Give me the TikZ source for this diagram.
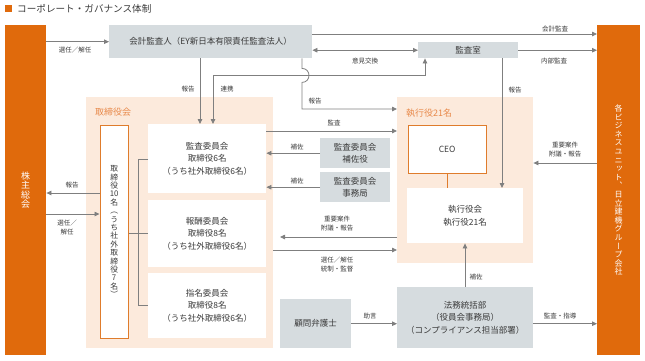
\documentclass[tikz,border=0pt]{standalone}
\usepackage{fontspec}
\setmainfont{Noto Sans CJK JP}
\newfontfamily\vjp[RawFeature=+vert]{Noto Sans CJK JP}
\usetikzlibrary{arrows.meta}
\definecolor{hcorange}{HTML}{E06A0C}
\definecolor{hcborder}{HTML}{DF7C2C}
\definecolor{hclabel}{HTML}{E8894A}
\definecolor{hcpeach}{HTML}{FCEADC}
\definecolor{hcgray}{HTML}{D6DCDF}
\definecolor{hcline}{HTML}{7F7F7F}
\definecolor{hctext}{HTML}{3A3A3A}
\tikzset{
	box/.style={anchor=north west, inner sep=0pt, align=center, text=hctext, font=\fontsize{8.5}{12.5}\selectfont},
	graybox/.style={box, fill=hcgray},
	whitebox/.style={box, fill=white},
	orangebox/.style={box, fill=white, draw=hcborder, line width=1.3pt},
	bar/.style={anchor=north west, inner sep=0pt, fill=hcorange, text=white, align=center},
	region/.style={anchor=north west, inner sep=0pt, fill=hcpeach},
	regionlbl/.style={anchor=west, inner sep=0pt, text=hclabel, font=\fontsize{9}{10}\selectfont},
	lbl/.style={inner sep=0pt, align=center, text=hctext, font=\fontsize{6.5}{9}\selectfont},
	ln/.style={draw=hcline, line width=0.8pt},
	arr/.style={ln, -{Triangle[length=5pt,width=4.5pt]}},
	arrboth/.style={ln, {Triangle[length=5pt,width=4.5pt]}-{Triangle[length=5pt,width=4.5pt]}},
}
\begin{document}
\begin{tikzpicture}[x=1pt,y=-1pt]
	\useasboundingbox (0,0) rectangle (645,360);
	
	% title
	\fill[hcorange] (5,5) rectangle (12,12);
	\node[anchor=west, inner sep=0pt, text=hctext, font=\fontsize{9.6}{10}\selectfont] (title) at (17,9) {コーポレート・ガバナンス体制};
	
	% bars and regions
	\node[bar, minimum width=41pt, minimum height=330pt, font=\vjp\fontsize{9}{9.5}\selectfont] (holders) at (5,25) {株\\主\\総\\会};
	\node[bar, minimum width=43pt, minimum height=330pt, font=\vjp\fontsize{8}{8.6}\selectfont] (units) at (597,25) {各\\ビ\\ジ\\ネ\\ス\\ユ\\ニ\\ッ\\ト\\、\\日\\立\\建\\機\\グ\\ル\\ー\\プ\\会\\社};
	\node[region, minimum width=187pt, minimum height=251pt] (board) at (86,97) {};
	\node[regionlbl] (boardlbl) at (95,112) {取締役会};
	\node[region, minimum width=136pt, minimum height=166pt] (exec) at (397,97) {};
	\node[regionlbl] (execlbl) at (406,113) {執行役21名};
	
	% boxes
	\node[graybox, minimum width=203pt, minimum height=33pt] (auditor) at (109,25) {会計監査人（EY新日本有限責任監査法人）};
	\node[graybox, minimum width=100pt, minimum height=16pt] (room) at (418,42) {監査室};
	\node[orangebox, minimum width=28pt, minimum height=213pt, font=\vjp\fontsize{7.8}{8.4}\selectfont] (directors) at (99.5,124.5) {取\\締\\役\\10\\名\\（\\う\\ち\\社\\外\\取\\締\\役\\7\\名\\）};
	\node[whitebox, minimum width=118pt, minimum height=69pt] (auditcom) at (148,124) {監査委員会\\取締役6名\\（うち社外取締役6名）};
	\node[whitebox, minimum width=118pt, minimum height=67pt] (compcom) at (148,200) {報酬委員会\\取締役8名\\（うち社外取締役6名）};
	\node[whitebox, minimum width=118pt, minimum height=65pt] (nomcom) at (148,273) {指名委員会\\取締役8名\\（うち社外取締役6名）};
	\node[graybox, minimum width=70pt, minimum height=30pt] (assist) at (320,138) {監査委員会\\補佐役};
	\node[graybox, minimum width=70pt, minimum height=30pt] (office) at (320,172) {監査委員会\\事務局};
	\node[orangebox, minimum width=78pt, minimum height=48pt] (ceo) at (407.5,124.5) {CEO};
	\node[whitebox, minimum width=116pt, minimum height=55pt] (excom) at (407,188) {執行役会\\執行役21名};
	\node[graybox, minimum width=136pt, minimum height=61pt] (legal) at (397,287) {法務統括部\\（役員会事務局）\\（コンプライアンス担当部署）};
	\node[graybox, minimum width=71pt, minimum height=49pt] (lawyer) at (280,299) {顧問弁護士};
	
	% levels
	\coordinate (k34) at (0,34);
	\coordinate (k75) at (425,75);
	\coordinate (k109) at (0,109);
	\coordinate (k131) at (0,131);
	\coordinate (k163) at (0,163);
	\coordinate (k193) at (0,193);
	\coordinate (k214) at (0,214);
	\coordinate (k237) at (280,237);
	\coordinate (k250) at (0,250);
	\coordinate (b1) at (138,159);
	\coordinate (b2) at (138,305);
	\coordinate (x200) at (200,0);
	\coordinate (x213) at (213,0);
	\coordinate (x302) at (302,0);
	\coordinate (x465) at (465,0);
	\coordinate (x502) at (502,0);
	
	% top
	\draw[arr] (holders.east |- auditor) -- (auditor.west);
	\node[lbl] (l1) at (75,50) {選任／解任};
	\draw[arr] (auditor.east |- k34) -- (units.west |- k34);
	\node[lbl] (l2) at (555,29) {会計監査};
	\draw[arrboth] (auditor.east |- room) -- (room.west);
	\node[lbl] (l3) at (365,61) {意見交換};
	\draw[arr] (room.east) -- (units.west |- room);
	\node[lbl] (l4) at (554,61) {内部監査};
	\draw[arr] (auditor.south -| x200) -- (auditcom.north -| x200);
	\node[lbl] (l5) at (188,89) {報告};
	\draw[arrboth] (auditcom.north -| x213) |- (k75) -- (room.south -| k75);
	\node[lbl] (l6) at (227,89) {連携};
	\draw[arr] (auditor.south -| x302) -- ++(0,10) .. controls +(9.3,0) and +(9.3,0) .. ++(0,14) |- (exec.west |- k109);
	\node[lbl] (l7) at (315,101) {報告};
	\draw[arr] (room.south -| x502) -- (excom.north -| x502);
	\node[lbl] (l8) at (515,90) {報告};
	
	% middle
	\draw[arr] (auditcom.east |- k131) -- (exec.west |- k131);
	\node[lbl] (l9) at (334,123) {監査};
	\draw[arr] (assist.west) -- (auditcom.east |- assist);
	\node[lbl] (l10) at (297,147) {補佐};
	\draw[arr] (office.west) -- (auditcom.east |- office);
	\node[lbl] (l11) at (297,181) {補佐};
	\draw[arr] (exec.west |- k237) -- (k237);
	\node[lbl] (l12) at (337,223.5) {重要案件\\附議・報告};
	\draw[arr] (board.east |- k250) -- (exec.west |- k250);
	\node[lbl] (l13) at (337,264.5) {選任／解任\\統制・監督};
	\draw[arr] (units.west |- k163) -- (exec.east |- k163);
	\node[lbl] (l14) at (565,149.5) {重要案件\\附議・報告};
	\draw[hcborder, line width=1.3pt] (ceo.south) -- (ceo.south |- excom.north);
	
	% shareholders
	\draw[arr] (directors.west |- k193) -- (holders.east |- k193);
	\node[lbl] (l15) at (72,185) {報告};
	\draw[arr] (holders.east |- k214) -- (directors.west |- k214);
	\node[lbl] (l16) at (67,228) {選任／\\解任};
	\draw[ln] (directors.east |- compcom) -- (compcom.west);
	\draw[ln] (auditcom.west |- b1) -- (b1) -- (b2) -- (nomcom.west |- b2);
	
	% bottom
	\draw[arr] (legal.north -| x465) -- (excom.south -| x465);
	\node[lbl] (l17) at (476,277) {補佐};
	\draw[arr] (lawyer.east) -- (legal.west |- lawyer);
	\node[lbl] (l18) at (370,316) {助言};
	\draw[arr] (legal.east |- lawyer) -- (units.west |- lawyer);
	\node[lbl] (l19) at (560,316) {監査・指導};
\end{tikzpicture}
\end{document}
